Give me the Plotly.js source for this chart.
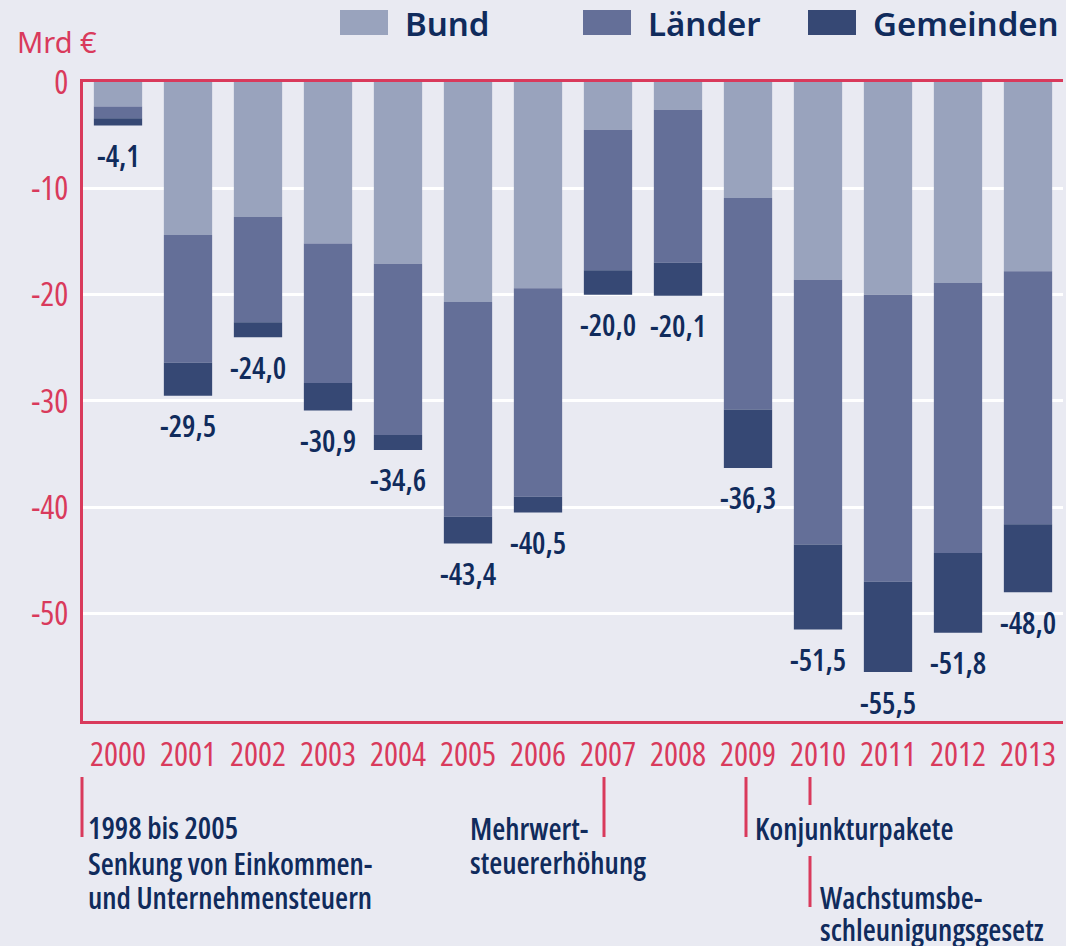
<!DOCTYPE html>
<html>
<head>
<meta charset="utf-8">
<script src="https://cdn.plot.ly/plotly-3.0.1.min.js"></script>
<style>
  html, body { margin: 0; padding: 0; background: #e9eaf2; }
  #chart { width: 1066px; height: 946px; }
  /* condensed faces (Myriad Condensed look); Noto Sans has no condensed face and stays normal */
  svg text { font-stretch: condensed; }
</style>
</head>
<body>
<div id="chart"></div>
<script>
// ---- data ----
const years = ["2000","2001","2002","2003","2004","2005","2006","2007","2008","2009","2010","2011","2012","2013"];
const seriesNames = ["Bund", "Länder", "Gemeinden"];
const bund      = [-2.3, -14.4, -12.7, -15.2, -17.1, -20.7, -19.4, -4.5, -2.6, -10.9, -18.6, -20.0, -18.9, -17.8];
const laender   = [-1.1, -12.0, -9.9, -13.1, -16.1, -20.2, -19.6, -13.2, -14.4, -19.9, -24.9, -27.0, -25.4, -23.8];
const gemeinden = [-0.7, -3.1, -1.4, -2.6, -1.4, -2.5, -1.5, -2.3, -3.1, -5.5, -8.0, -8.5, -7.5, -6.4];
const totals    = [-4.1, -29.5, -24.0, -30.9, -34.6, -43.4, -40.5, -20.0, -20.1, -36.3, -51.5, -55.5, -51.8, -48.0];
const yTickVals = [0, -10, -20, -30, -40, -50];
const yTickText = ["0", "-10", "-20", "-30", "-40", "-50"];
const unitLabel = "Mrd €";
const noteLines = [
  ["1998 bis 2005", "Senkung von Einkommen-", "und Unternehmensteuern"],
  ["Mehrwert-", "steuererhöhung"],
  ["Konjunkturpakete"],
  ["Wachstumsbe-", "schleunigungsgesetz"]
];

// ---- styles ----
const colors = ["#99a3bd", "#646f98", "#364874"];
const RED = "#d93a5c";
const NAVY = "#102b5c";
const BG = "#e9eaf2";
const COND = "Open Sans, Roboto, sans-serif";   // rendered condensed via CSS font-stretch
const WIDE = "Noto Sans, sans-serif";

const seriesVals = [bund, laender, gemeinden];
const traces = seriesVals.map((vals, i) => ({
  type: "bar",
  name: seriesNames[i],
  x: years,
  y: vals,
  marker: {color: colors[i], line: {width: 0}},
  showlegend: false,
  hoverinfo: "skip"
}));

// layout-only pixel helpers (plot area 83..1063 x, 82..721 y)
const px = v => (v - 83) / 980;
const py = v => (721 - v) / 639;

const annotations = [];
// value labels below each stacked bar (x = category index)
years.forEach((yr, i) => {
  annotations.push({
    x: i, y: totals[i], xref: "x", yref: "y",
    text: totals[i].toFixed(1).replace(".", ","),
    showarrow: false, yanchor: "middle", xanchor: "center", yshift: -30,
    font: {family: COND, size: 30, color: NAVY, weight: 600}
  });
});
// unit label
annotations.push({
  x: px(15), y: py(42), xref: "paper", yref: "paper", xanchor: "left", yanchor: "middle",
  text: unitLabel, showarrow: false,
  font: {family: WIDE, size: 29, color: RED}
});
// legend
const legBoxX = [340, 583, 808];
const shapes = [];
seriesNames.forEach((n, i) => {
  shapes.push({type: "rect", xref: "paper", yref: "paper",
    x0: px(legBoxX[i]), x1: px(legBoxX[i] + 48), y0: py(35), y1: py(10),
    fillcolor: colors[i], line: {width: 0}});
  annotations.push({
    x: px(legBoxX[i] + 63), y: py(23), xref: "paper", yref: "paper",
    xanchor: "left", yanchor: "middle", text: n, showarrow: false,
    font: {family: WIDE, size: 33, color: NAVY, weight: 600}
  });
});
// notes below axis, one annotation per line
const noteFont = {family: COND, size: 30, color: NAVY, weight: 600};
const noteX = [86, 468, 753, 818];
const noteY = [[827, 863, 897], [828, 862], [828], [897, 929]];
noteLines.forEach((lines, i) => {
  lines.forEach((t, j) => {
    annotations.push({
      x: px(noteX[i]), y: py(noteY[i][j]), xref: "paper", yref: "paper",
      xanchor: "left", yanchor: "middle", align: "left",
      text: t, showarrow: false,
      font: noteFont
    });
  });
});
// red marker lines
const marks = [[82, 777, 837], [604, 777, 837], [746, 777, 837], [810, 777, 805], [810, 856, 907]];
marks.forEach(m => {
  shapes.push({type: "line", xref: "paper", yref: "paper",
    x0: px(m[0]), x1: px(m[0]), y0: py(m[1]), y1: py(m[2]),
    line: {color: RED, width: 3}});
});

const layout = {
  width: 1066, height: 946,
  paper_bgcolor: BG, plot_bgcolor: BG,
  margin: {l: 83, r: 3, t: 82, b: 225},
  barmode: "relative",
  bargap: 0.31,
  showlegend: false,
  xaxis: {
    type: "category", range: [-0.5, 13.5],
    showline: true, linecolor: RED, linewidth: 3, mirror: true,
    showgrid: false, ticks: "", ticklabelstandoff: 2, tickangle: 0,
    tickfont: {family: COND, size: 33, color: RED}
  },
  yaxis: {
    range: [-60.1, 0],
    tickvals: yTickVals, ticktext: yTickText,
    showline: true, linecolor: RED, linewidth: 3,
    showgrid: true, gridcolor: "#ffffff", gridwidth: 3,
    zeroline: false, ticks: "", ticklabelstandoff: 5,
    tickfont: {family: COND, size: 33, color: RED}
  },
  annotations: annotations,
  shapes: shapes
};

Plotly.newPlot("chart", traces, layout, {displayModeBar: false, staticPlot: true});
</script>
</body>
</html>
